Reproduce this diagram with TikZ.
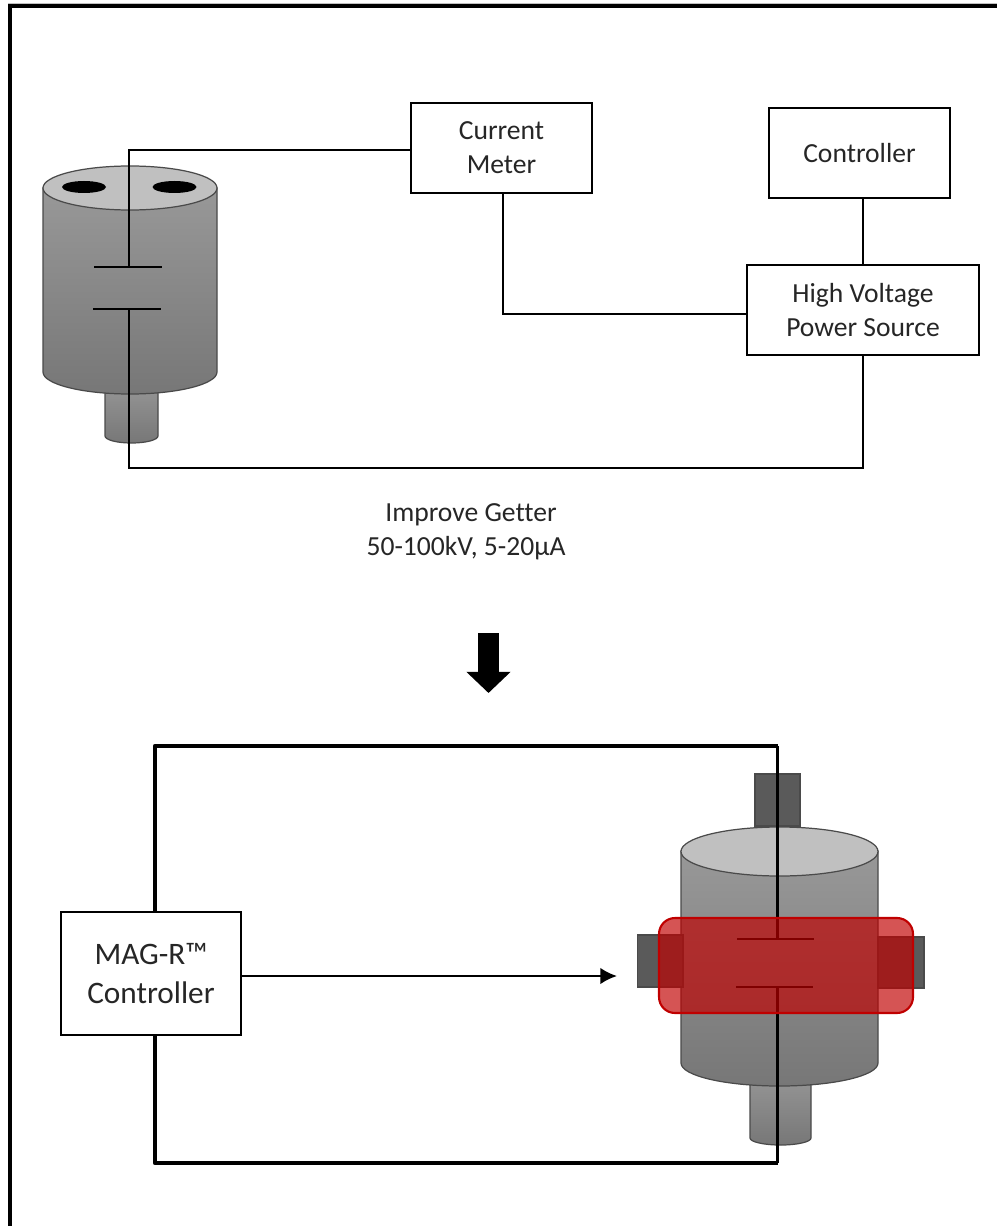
\documentclass[tikz,border=0pt]{standalone}
\usepackage{fontspec}
\setmainfont[Ligatures=CommonOff]{Carlito}
\usepackage{xcolor}
\usetikzlibrary{arrows.meta}
\tikzstyle{every picture}=[->,>=latex]
\definecolor{bodytop}{HTML}{989898}
\definecolor{bodybot}{HTML}{777777}
\definecolor{capgray}{HTML}{C0C0C0}
\definecolor{blockgray}{HTML}{5A5A5A}
\definecolor{edgegray}{HTML}{4A4A4A}
\definecolor{magred}{HTML}{C00000}
\definecolor{txt}{HTML}{262626}
\tikzstyle{boxnode}=[draw,line width=1.2pt,fill=white,inner sep=0pt,align=center,text=txt,
  minimum width=3.62cm,font=\fontsize{15.7}{19.2}\selectfont]
\tikzstyle{wire}=[-,draw,line width=1.6pt]
\tikzstyle{loopwire}=[-,draw,line width=2.5pt,line join=round]
\tikzstyle{tube}=[draw=edgegray,line width=0.7pt,top color=bodytop,bottom color=bodybot]
\tikzstyle{capface}=[draw=edgegray,line width=0.7pt,fill=capgray]
\tikzstyle{block}=[draw=edgegray,line width=1pt,fill=blockgray]

\begin{document}
\begin{tikzpicture}[x=0.02cm,y=-0.02cm]
{
\useasboundingbox (0,0) rectangle (997,1226);

% frame
\path[-, draw, line width=2.2pt] (10,1226) -- (10,5.7) -- (997,5.7);
\path[-, draw=capgray, line width=0.5pt] (8,3.5) -- (997,3.5);

% upper tube
\path[tube] (105,380) -- (105,436) arc[start angle=180,end angle=0,x radius=26.5,y radius=7] -- (158,380) -- cycle;
\path[tube] (43,188) -- (43,372) arc[start angle=180,end angle=0,x radius=87,y radius=22] -- (217,188) -- cycle;
\path[capface] (130,188) ellipse[x radius=87,y radius=22];
\fill (84,187) ellipse[x radius=22,y radius=6];
\fill (174.5,187) ellipse[x radius=22,y radius=6];

% lower tube
\path[tube] (750,1070) -- (750,1138) arc[start angle=180,end angle=0,x radius=30.5,y radius=7] -- (811,1070) -- cycle;
\path[tube] (681,851) -- (681,1063) arc[start angle=180,end angle=0,x radius=98.5,y radius=23] -- (878,851) -- cycle;
\path[capface] (779.5,851.5) ellipse[x radius=98.5,y radius=24.5];
\path[block] (755,774) rectangle (800,826);
\path[block] (637.5,935) rectangle (683,987);
\path[block] (878,937) rectangle (924,988);

\begin{scope}[every node/.style={boxnode}]
    \node[minimum height=1.8cm](meter) at (501.5,148) {Current\\Meter};
    \node[minimum height=1.8cm](ctrl) at (859.5,153) {Controller};
    \node[minimum width=4.64cm,minimum height=1.8cm](hvps) at (863,310) {High Voltage\\Power Source};
    \node[minimum width=3.6cm,minimum height=2.46cm,font=\fontsize{17.8}{22.7}\selectfont](magr) at (151,973.5) {MAG-R™\\Controller};
\end{scope}
\node[text=txt,align=center,font=\fontsize{15.7}{19.2}\selectfont](note) at (466,532) {\hspace*{0.2cm}Improve Getter\\50-100kV, 5-20µA};

\coordinate (a1) at (129,150);
\coordinate (a2) at (129,267);
\coordinate (a3) at (129,309);
\coordinate (a4) at (129,468);
\coordinate (p1l) at (94,267);
\coordinate (p1r) at (162,267);
\coordinate (p2l) at (93,309);
\coordinate (p2r) at (161,309);
\coordinate (m1) at (503,314);
\coordinate (s1) at (863,198);
\coordinate (b1) at (155,746);
\coordinate (b2) at (777.5,746);
\coordinate (b3) at (777.5,939);
\coordinate (b4) at (777.5,987);
\coordinate (b5) at (777.5,1163);
\coordinate (b6) at (155,1163);
\coordinate (q1l) at (737,939);
\coordinate (q1r) at (814,939);
\coordinate (q2l) at (736,987);
\coordinate (q2r) at (813,987);
\coordinate (t1) at (617,976);
\coordinate (g1) at (488.5,633);
\coordinate (g2) at (488.5,693);

\path[wire] (a1 -| meter.west) -- (a1) -- (a2);
\path[wire] (p1l) -- (p1r);
\path[wire] (p2l) -- (p2r);
\path[wire] (a3) -- (a4) -- (a4 -| hvps.south) -- (hvps.south);
\path[wire] (meter.south -| m1) -- (m1) -- (m1 -| hvps.west);
\path[wire] (ctrl.south -| s1) -- (hvps.north);

\path[loopwire] (b1 |- magr.north) -- (b1) -- (b2);
\path[wire] (b2) -- (b3);
\path[wire] (q1l) -- (q1r);
\path[wire] (q2l) -- (q2r);
\path[wire] (b4) -- (b5);
\path[loopwire] (b5) -- (b6) -- (b6 |- magr.south);
\draw[->, line width=1.5pt, >={Latex[length=9.5pt,width=9.5pt]}] (t1 -| magr.east) -- (t1);
\draw[-{Triangle[length=12pt,width=24.4pt]}, line width=11.9pt] (g1) -- (g2);

% magnet band
\path[-, draw=magred, fill=magred, fill opacity=0.67, line width=1.2pt, rounded corners=0.32cm] (659,918) rectangle (913,1013);
}
\end{tikzpicture}
\end{document}
